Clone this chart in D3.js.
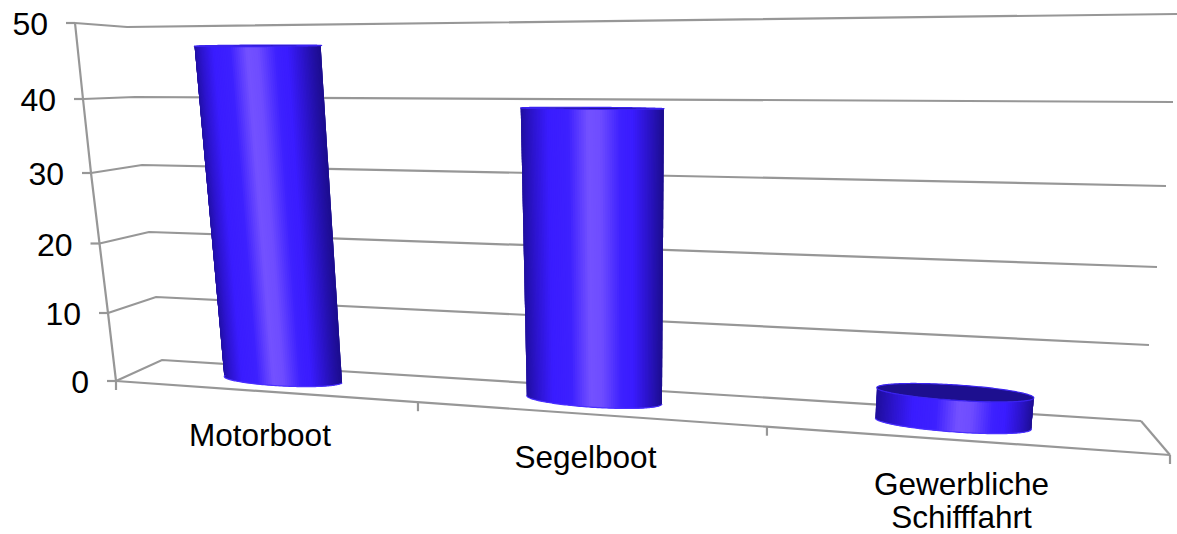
<!DOCTYPE html>
<html><head><meta charset="utf-8">
<script src="https://cdnjs.cloudflare.com/ajax/libs/d3/7.8.5/d3.min.js"></script>
<style>html,body{margin:0;padding:0;background:#fff}svg{display:block}text{font-family:"Liberation Sans",Arial,sans-serif;fill:#000}</style>
</head><body><svg id="chart" width="1177" height="534"></svg>
<script>
const categories = [["Motorboot"], ["Segelboot"], ["Gewerbliche", "Schifffahrt"]];
const values = [47, 39, 4];
const valueTicks = [0, 10, 20, 30, 40, 50];

// Perspective of the box: each corner edge is a scale from value to pixels,
// uneven because the box recedes towards the top left.
const edge = (xs, ys) => ({
  x: d3.scaleLinear().domain(valueTicks).range(xs),
  y: d3.scaleLinear().domain(valueTicks).range(ys)
});
const frontLeft = edge([116, 108, 99.5, 91, 83, 75], [381, 313, 243.5, 173, 99, 23]);
const backLeft = edge([162, 156, 149, 142, 135, 127], [360, 297, 232, 165, 97, 27]);
const backRight = edge([1141, 1149, 1157, 1166, 1173, 1177], [421, 345, 267, 186, 102, 14]);
const floorFrontRight = { x: 1170, y: 455 };

// Category widths grow towards the viewer on the right.
const along = d3.scaleLinear().domain([0, 1 / 3, 2 / 3, 1]).range([0, 0.2865, 0.6176, 1]);
const barCentre = d3.scaleLinear().domain([0, categories.length - 1]).range([0.164, 0.827]);

// Maps a point of the box (u along the categories, d from back to front, v value) to the page.
function project(u, d, v) {
  const t = along(u);
  const blx = backLeft.x(v), bly = backLeft.y(v);
  const brx = backRight.x(v), bry = backRight.y(v);
  const flx = frontLeft.x(v), fly = frontLeft.y(v);
  // The right-hand side wall opens in proportion to the left-hand one.
  const open = (fly - bly) / (frontLeft.y(0) - backLeft.y(0));
  const frx = brx + (floorFrontRight.x - backRight.x(0));
  const fry = bry + open * (floorFrontRight.y - backRight.y(0));
  const bx = blx + t * (brx - blx), by = bly + t * (bry - bly);
  const fx = flx + t * (frx - flx), fy = fly + t * (fry - fly);
  return [bx + d * (fx - bx), by + d * (fy - by)];
}

const svg = d3.select("#chart");
const gridColor = "#979797";
const line = d3.line();
const grid = svg.append("g").attr("fill", "none").attr("stroke", gridColor).attr("stroke-width", 2.2);

// Gridlines run across the side wall and along the back wall.
grid.selectAll("path.grid").data(valueTicks).join("path").attr("class", "grid")
  .attr("d", v => line([[frontLeft.x(v), frontLeft.y(v)], [backLeft.x(v), backLeft.y(v)], [backRight.x(v), backRight.y(v)]]));
grid.append("path").attr("d", line([[backRight.x(0), backRight.y(0)], [floorFrontRight.x, floorFrontRight.y]]));
grid.append("path").attr("d", line([[frontLeft.x(0), frontLeft.y(0)], [floorFrontRight.x, floorFrontRight.y]]));
grid.append("path").attr("d", line(valueTicks.map(v => [frontLeft.x(v), frontLeft.y(v)])));

// Tick marks on both axes.
grid.selectAll("path.vtick").data(valueTicks).join("path").attr("class", "vtick")
  .attr("d", v => line([[frontLeft.x(v) - 9, frontLeft.y(v)], [frontLeft.x(v), frontLeft.y(v)]]));
grid.selectAll("path.ctick").data(d3.range(categories.length + 1)).join("path").attr("class", "ctick")
  .attr("d", i => {
    const p = project(i / categories.length, 1, 0);
    return line([p, [p[0], p[1] + 9]]);
  });

svg.append("g").selectAll("text").data(valueTicks).join("text")
  .attr("x", v => frontLeft.x(v) - 27)
  .attr("y", v => frontLeft.y(v) + 12)
  .attr("text-anchor", "end").attr("font-size", 32).text(v => v);

// Cylinder shading: dark rims, saturated body and a soft highlight down the middle.
const bodyShade = d3.scaleLinear()
  .domain([0, 0.1, 0.22, 0.36, 0.5, 0.58, 0.72, 0.8, 0.9, 1])
  .range(["#1f0f9c", "#2c14cc", "#3a1cff", "#3d20ff", "#7452ff", "#6f4dff", "#3d20ff", "#3a1cff", "#2c14cc", "#1d0e90"]);

const barRadiusU = 0.067, barRadiusD = 0.28, barDepth = 0.46;
const steps = 96;
const bars = svg.append("g");

values.forEach((value, i) => {
  const uc = barCentre(i);
  const ring = (a, v) => project(uc + barRadiusU * Math.cos(a), barDepth + barRadiusD * Math.sin(a), v);
  const g = bars.append("g");
  const front = d3.range(steps + 1).map(k => Math.PI - Math.PI * k / steps);

  // The visible half of the wall, as narrow strips shaded by their angle around the axis.
  // Each strip runs under its right-hand neighbour so no seams show between them.
  g.selectAll("path.strip").data(d3.range(steps)).join("path").attr("class", "strip")
    .attr("d", k => {
      const next = front[Math.min(k + 3, steps)];
      return line([ring(front[k], 0), ring(next, 0), ring(next, value), ring(front[k], value)]) + "Z";
    })
    .attr("fill", k => bodyShade((1 - Math.cos(Math.PI * (k + 0.5) / steps)) / 2));

  // Lower rim, slightly brighter than the wall.
  g.append("path").attr("fill", "none").attr("stroke", "#4a30ff").attr("stroke-width", 1.2)
    .attr("d", line(front.map(a => ring(a, 0))));

  // Top face: a dark disc seen from above on the low cylinder, and a thin cap otherwise.
  const cap = d3.range(steps * 2 + 1).map(k => ring(Math.PI * k / steps, value));
  g.append("path").attr("d", line(cap) + "Z")
    .attr("fill", "#1d0f8f").attr("stroke", "#3a22f0").attr("stroke-width", 1.2);
});

// Category labels hang below the front edge of the floor.
const labelRow = svg.append("g");
categories.forEach((lines, i) => {
  const p = project((i + 0.5) / categories.length, 1, 0);
  labelRow.append("text").attr("text-anchor", "middle").attr("font-size", 31.5)
    .selectAll("tspan").data(lines).join("tspan")
    .attr("x", p[0] - 7).attr("y", (d, k) => p[1] + 54 + k * 33).text(d => d);
});
</script></body></html>
